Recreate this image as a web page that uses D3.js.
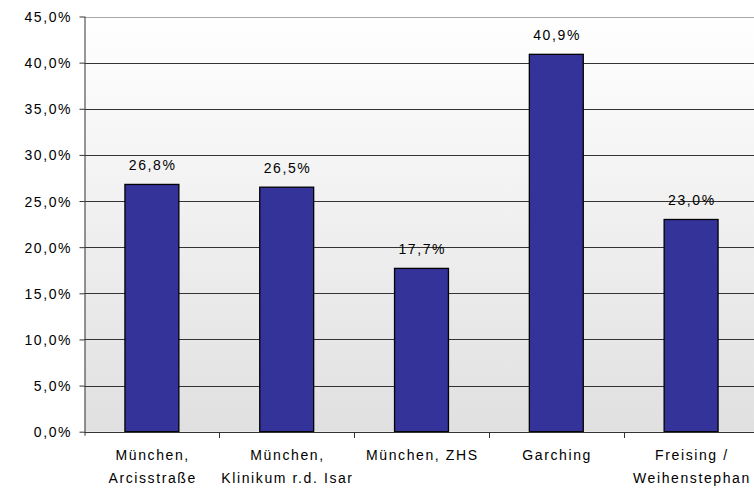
<!DOCTYPE html>
<html>
<head>
<meta charset="utf-8">
<script src="https://cdn.jsdelivr.net/npm/d3@7"></script>
<style>
  body { margin: 0; background: #fff; }
  text { font-family: "Liberation Sans", Arial, sans-serif; font-size: 14px; fill: #000; letter-spacing: 1.6px; }
</style>
</head>
<body>
<svg id="chart" width="754" height="490"></svg>
<script>
// data
var categories = [
  ["München,", "Arcisstraße"],
  ["München,", "Klinikum r.d. Isar"],
  ["München, ZHS"],
  ["Garching"],
  ["Freising /", "Weihenstephan"]
];
var values = [26.8, 26.5, 17.7, 40.9, 23.0];
var yTicks = [0, 5, 10, 15, 20, 25, 30, 35, 40, 45];

var width = 754, height = 490;
var plotLeft = 84.5, plotRight = 758.5, plotTop = 16.5, plotBottom = 431.7;

var svg = d3.select('#chart');

var fmt = function (v) { return v.toFixed(1).replace('.', ',') + '%'; };

var x = d3.scaleBand()
  .domain(d3.range(values.length))
  .range([plotLeft, plotRight])
  .paddingInner(0.6)
  .paddingOuter(0.3);

var y = d3.scaleLinear()
  .domain([0, 45])
  .range([plotBottom, plotTop]);

// background gradient of plot area
var grad = svg.append('defs').append('linearGradient')
  .attr('id', 'bg').attr('x1', 0).attr('y1', 0).attr('x2', 0).attr('y2', 1);
grad.append('stop').attr('offset', '0%').attr('stop-color', '#ffffff');
grad.append('stop').attr('offset', '100%').attr('stop-color', '#e0e0e0');

svg.append('rect')
  .attr('x', plotLeft).attr('y', plotTop)
  .attr('width', width - plotLeft).attr('height', plotBottom - plotTop)
  .attr('fill', 'url(#bg)');

// gridlines
svg.append('g')
  .selectAll('line')
  .data(yTicks.slice(1))
  .enter().append('line')
  .attr('x1', plotLeft).attr('x2', width)
  .attr('y1', function (d) { return Math.round(y(d)) + 0.5; })
  .attr('y2', function (d) { return Math.round(y(d)) + 0.5; })
  .attr('stroke', function (d) { return d === 45 ? '#a8a8a8' : '#333'; })
  .attr('stroke-width', 1);

// bars
svg.append('g')
  .selectAll('rect')
  .data(values)
  .enter().append('rect')
  .attr('x', function (d, i) { return x(i); })
  .attr('y', function (d) { return y(d); })
  .attr('width', x.bandwidth())
  .attr('height', function (d) { return plotBottom - y(d); })
  .attr('fill', '#333399')
  .attr('stroke', '#000')
  .attr('stroke-width', 1.3);

// value labels
svg.append('g')
  .selectAll('text')
  .data(values)
  .enter().append('text')
  .attr('x', function (d, i) { return x(i) + x.bandwidth() / 2 + 0.8; })
  .attr('y', function (d) { return y(d) - 14; })
  .attr('text-anchor', 'middle')
  .text(fmt);

// y axis
var yAxis = d3.axisLeft(y)
  .tickValues(yTicks)
  .tickSize(5)
  .tickPadding(9)
  .tickFormat(fmt);
var ga = svg.append('g')
  .attr('transform', 'translate(' + plotLeft + ',0)')
  .call(yAxis);
ga.select('.domain').attr('stroke', '#333').attr('d', 'M0.5,' + plotTop + 'V' + (plotBottom + 4));
ga.selectAll('.tick line').attr('stroke', '#333');
ga.selectAll('.tick text')
  .attr('font-family', null).attr('font-size', null)
  .attr('dx', 1.6).attr('dy', '0.36em');

// x axis
var xAxis = d3.axisBottom(x).tickSize(0).tickFormat('');
var gx = svg.append('g')
  .attr('transform', 'translate(0,' + (Math.round(plotBottom) + 0.5) + ')')
  .call(xAxis);
gx.select('.domain').attr('stroke', '#333').attr('d', 'M' + plotLeft + ',0H' + width);

// category separators
var step = x.step();
svg.append('g')
  .selectAll('line')
  .data(d3.range(1, values.length))
  .enter().append('line')
  .attr('x1', function (d) { return Math.round(plotLeft + d * step) + 0.5; })
  .attr('x2', function (d) { return Math.round(plotLeft + d * step) + 0.5; })
  .attr('y1', Math.round(plotBottom)).attr('y2', Math.round(plotBottom) + 6)
  .attr('stroke', '#333');

// category labels
var lab = svg.append('g')
  .selectAll('text')
  .data(categories)
  .enter().append('text')
  .attr('text-anchor', 'middle')
  .attr('transform', function (d, i) {
    return 'translate(' + (x(i) + x.bandwidth() / 2 + 0.8) + ',460)';
  });
lab.selectAll('tspan')
  .data(function (d) { return d; })
  .enter().append('tspan')
  .attr('x', 0)
  .attr('y', function (d, i) { return i * 23; })
  .text(function (d) { return d; });
</script>
</body>
</html>
